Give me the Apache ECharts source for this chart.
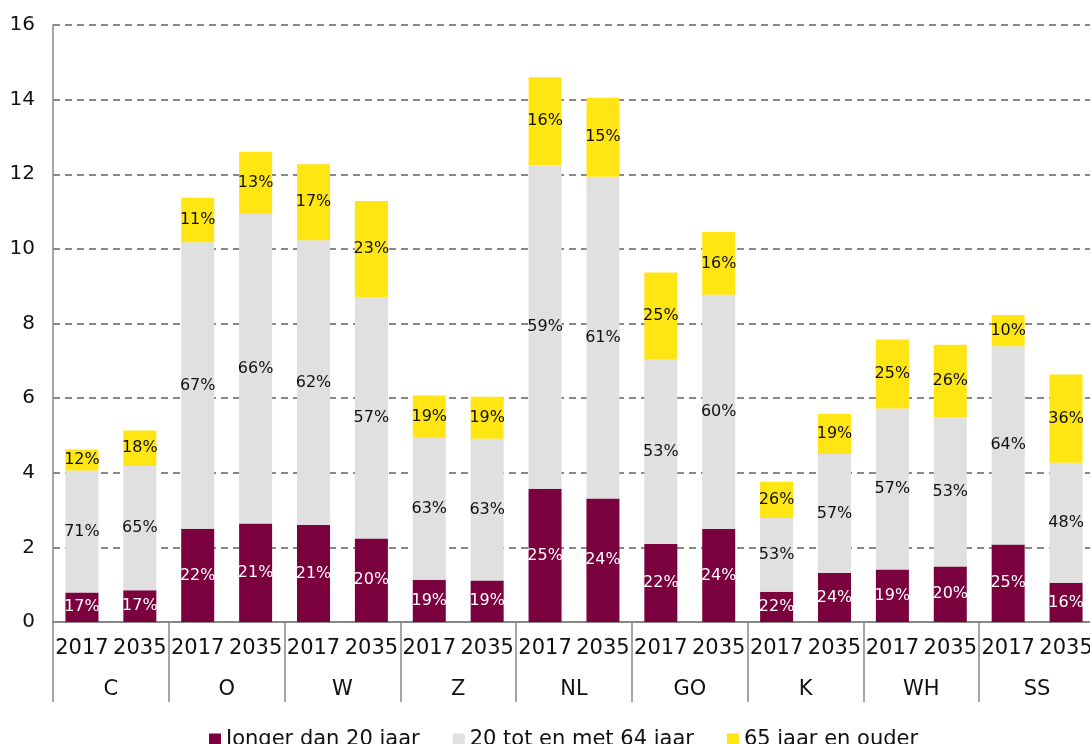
<!DOCTYPE html>
<html>
<head>
<meta charset="utf-8">
<script src="https://cdn.jsdelivr.net/npm/echarts@6/dist/echarts.min.js"></script>
<style>
  html, body { margin: 0; padding: 0; background: #fff; overflow: hidden; }
  /* plot runs a few pixels past the right edge, as in the original */
  #chart { width: 1100px; height: 744px; }
</style>
</head>
<body>
<div id="chart"></div>
<script>
// regions and years (two-level x axis)
const groups = ['C', 'O', 'W', 'Z', 'NL', 'GO', 'K', 'WH', 'SS']
const years = ['2017', '2035']
const categories = groups.flatMap(() => years)

// population (x 1000?), one value per bar segment
const jong   = [0.79, 0.85, 2.50, 2.64, 2.60, 2.24, 1.13, 1.11, 3.57, 3.31, 2.09, 2.49, 0.81, 1.31, 1.41, 1.49, 2.08, 1.05]
const midden = [3.27, 3.33, 7.68, 8.30, 7.63, 6.46, 3.81, 3.80, 8.67, 8.62, 4.96, 6.28, 1.98, 3.19, 4.31, 3.99, 5.31, 3.22]
const oud    = [0.56, 0.95, 1.19, 1.66, 2.04, 2.58, 1.13, 1.13, 2.36, 2.12, 2.32, 1.68, 0.97, 1.08, 1.85, 1.95, 0.84, 2.36]

// percentage labels as printed on the bars
const jongPct   = [17, 17, 22, 21, 21, 20, 19, 19, 25, 24, 22, 24, 22, 24, 19, 20, 25, 16]
const middenPct = [71, 65, 67, 66, 62, 57, 63, 63, 59, 61, 53, 60, 53, 57, 57, 53, 64, 48]
const oudPct    = [12, 18, 11, 13, 17, 23, 19, 19, 16, 15, 25, 16, 26, 19, 25, 26, 10, 36]

const yTicks = { min: 0, max: 16, interval: 2 }

const FONT = 'DejaVu Sans'
const chart = echarts.init(document.getElementById('chart'))

function segment(name, data, pct, color, textColor) {
  return {
    name,
    type: 'bar',
    stack: 'total',
    data,
    barWidth: 33,
    itemStyle: { color },
    label: {
      show: true,
      position: 'inside',
      color: textColor,
      fontFamily: FONT,
      fontSize: 16,
      formatter: p => pct[p.dataIndex] + '%',
    },
    animation: false,
  }
}

chart.setOption({
  animation: false,
  grid: { left: 53, top: 25, width: 1042, bottom: 122 },
  legend: {
    left: 204,
    top: 724,
    icon: 'rect',
    itemWidth: 12,
    itemHeight: 12,
    itemGap: 33,
    textStyle: { color: '#111', fontFamily: FONT, fontSize: 21 },
    data: ['Jonger dan 20 jaar', '20 tot en met 64 jaar', '65 jaar en ouder'],
  },
  xAxis: [
    {
      type: 'category',
      data: categories,
      position: 'bottom',
      axisLine: { show: true, lineStyle: { color: '#888', width: 2 } },
      axisTick: { show: false },
      axisLabel: { interval: 0, color: '#111', fontFamily: FONT, fontSize: 21, margin: 16 },
    },
    {
      type: 'category',
      data: groups,
      position: 'bottom',
      axisLine: { show: false },
      axisTick: { show: true, interval: 0, length: 80, lineStyle: { color: '#888', width: 1.5 } },
      axisLabel: { interval: 0, color: '#111', fontFamily: FONT, fontSize: 21, margin: 57 },
    },
  ],
  yAxis: {
    type: 'value',
    ...yTicks,
    axisLine: { show: true, lineStyle: { color: '#888', width: 1.5 } },
    axisTick: { show: false },
    axisLabel: { color: '#111', fontFamily: FONT, fontSize: 20, margin: 18 },
    splitLine: { lineStyle: { color: '#888', width: 2, type: [7, 5] } },
  },
  series: [
    segment('Jonger dan 20 jaar', jong, jongPct, '#7a003e', '#fff'),
    segment('20 tot en met 64 jaar', midden, middenPct, '#e0e0e0', '#111'),
    segment('65 jaar en ouder', oud, oudPct, '#ffe512', '#111'),
  ],
})
</script>
</body>
</html>
